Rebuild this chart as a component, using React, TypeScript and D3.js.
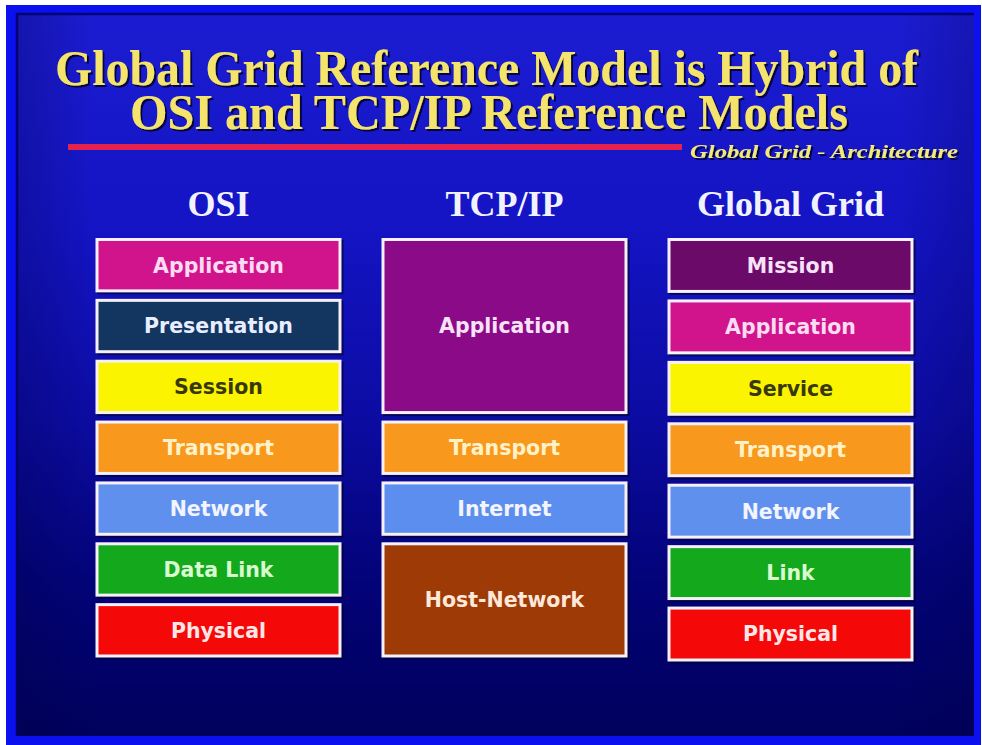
import React from "react";
import * as d3 from "d3";

const titleLines = ["Global Grid Reference Model is Hybrid of", "OSI and TCP/IP Reference Models"];
const subtitle = "Global Grid - Architecture";
const columns = ["OSI", "TCP/IP", "Global Grid"];

const osiLayers = ["Application", "Presentation", "Session", "Transport", "Network", "Data Link", "Physical"];
const osiSpans = [1, 1, 1, 1, 1, 1, 1];
const osiColors = ["#d2148c", "#12365f", "#fbf400", "#f8981c", "#6090ee", "#14a81c", "#f40808"];
const osiText = ["#fadcf2", "#e8eeff", "#38380a", "#fff2c8", "#f2f4ff", "#d8fcd0", "#ffe6e6"];

const tcpLayers = ["Application", "Transport", "Internet", "Host-Network"];
const tcpSpans = [3, 1, 1, 2];
const tcpColors = ["#8a0a88", "#f8981c", "#5c8ef0", "#9e3a06"];
const tcpText = ["#f8e2f8", "#fff2c8", "#f2f4ff", "#ffe8da"];

const ggLayers = ["Mission", "Application", "Service", "Transport", "Network", "Link", "Physical"];
const ggSpans = [1, 1, 1, 1, 1, 1, 1];
const ggColors = ["#6c0a6a", "#d2148c", "#fbf400", "#f8981c", "#6090ee", "#14a81c", "#f40808"];
const ggText = ["#f8e2f8", "#fadcf2", "#38380a", "#fff2c8", "#f2f4ff", "#d8fcd0", "#ffe6e6"];

const stacks = [
  { layers: osiLayers, spans: osiSpans, colors: osiColors, text: osiText },
  { layers: tcpLayers, spans: tcpSpans, colors: tcpColors, text: tcpText },
  { layers: ggLayers, spans: ggSpans, colors: ggColors, text: ggText },
];

const W = 982;
const H = 745;

export default function App() {
  const x = d3.scalePoint<string>().domain(columns).range([218.5, 790.5]);
  const boxW = 246;
  const yEnds = [664, 664, 668];
  const gap = 6.5;

  return (
    <svg
      width={W}
      height={H}
      viewBox={`0 0 ${W} ${H}`}
      style={{ position: "absolute", left: 0, top: 0, display: "block" }}
    >
      <defs>
        <linearGradient id="bg" x1="0" y1="0" x2="0" y2="1">
          <stop offset="0" stopColor="#1c1cd2" />
          <stop offset="0.3" stopColor="#1414c4" />
          <stop offset="0.55" stopColor="#0c0ca4" />
          <stop offset="0.78" stopColor="#03037a" />
          <stop offset="1" stopColor="#00005c" />
        </linearGradient>
        <linearGradient id="vig" x1="0" y1="0" x2="1" y2="0">
          <stop offset="0" stopColor="#000040" stopOpacity="0.25" />
          <stop offset="0.08" stopColor="#000040" stopOpacity="0" />
          <stop offset="0.92" stopColor="#000040" stopOpacity="0" />
          <stop offset="1" stopColor="#000040" stopOpacity="0.2" />
        </linearGradient>
        <filter id="shadow" x="-5%" y="-20%" width="110%" height="150%">
          <feDropShadow dx="2" dy="2" stdDeviation="0.6" floodColor="#06062a" floodOpacity="0.85" />
        </filter>
      </defs>
      <rect x={0} y={0} width={W} height={H} fill="#ffffff" />
      <rect x={6} y={5} width={975} height={740} fill="#0b10ee" />
      <rect x={16} y={13} width={958} height={723} fill="url(#bg)" />
      <rect x={16} y={13} width={958} height={723} fill="url(#vig)" />
      <path d="M17,736 L17,14 L974,14" fill="none" stroke="#000060" strokeWidth={2.5} opacity={0.8} />

      {/* Title */}
      {titleLines.map((t, i) => {
        const xs = [55, 130];
        const lens = [863, 718];
        const ys = [85, 129];
        return (
          <text
            key={t}
            x={xs[i]}
            y={ys[i]}
            fontFamily="'Liberation Serif', 'Times New Roman', serif"
            fontWeight="bold"
            fontSize={50}
            textLength={lens[i]}
            lengthAdjust="spacingAndGlyphs"
            fill="#f4e46c"
            filter="url(#shadow)"
          >
            {t}
          </text>
        );
      })}

      {/* Red rule */}
      <line x1={68} x2={682} y1={147} y2={147} stroke="#e4224e" strokeWidth={6} />

      {/* Subtitle */}
      <text
        x={690}
        y={158}
        fontFamily="'Liberation Serif', 'Times New Roman', serif"
        fontWeight="bold"
        fontStyle="italic"
        fontSize={19}
        textLength={268}
        lengthAdjust="spacingAndGlyphs"
        fill="#f2ea7a"
        filter="url(#shadow)"
      >
        {subtitle}
      </text>

      {/* Column headers */}
      {columns.map((c) => (
        <text
          key={c}
          x={x(c)}
          y={216}
          textAnchor="middle"
          fontFamily="'Liberation Serif', 'Times New Roman', serif"
          fontWeight="bold"
          fontSize={36}
          fill="#f2f2ff"
        >
          {c}
        </text>
      ))}

      {/* Stacks */}
      {stacks.map((s, ci) => {
        const total = d3.sum(s.spans);
        const y = d3.scaleLinear().domain([0, total]).range([238, yEnds[ci]]);
        const starts = d3.cumsum([0, ...s.spans]);
        const cx = x(columns[ci]) as number;
        return (
          <g key={columns[ci]}>
            {s.layers.map((name, li) => {
              const y0 = y(starts[li]);
              const y1 = y(starts[li] + s.spans[li]) - gap;
              const h = y1 - y0;
              return (
                <g key={name + li}>
                  <rect x={cx - boxW / 2 + 2} y={y0 + 2} width={boxW} height={h} fill="#000028" opacity={0.6} />
                  <rect
                    x={cx - boxW / 2 + 1.5}
                    y={y0 + 1.5}
                    width={boxW - 3}
                    height={h - 3}
                    fill={s.colors[li]}
                    stroke="#f6f0f8"
                    strokeWidth={3}
                  />
                  <text
                    x={cx}
                    y={y0 + h / 2}
                    dy="0.36em"
                    textAnchor="middle"
                    fontFamily="'DejaVu Sans', Verdana, sans-serif"
                    fontWeight="bold"
                    fontSize={20.5}
                    fill={s.text[li]}
                  >
                    {name}
                  </text>
                </g>
              );
            })}
          </g>
        );
      })}
    </svg>
  );
}
